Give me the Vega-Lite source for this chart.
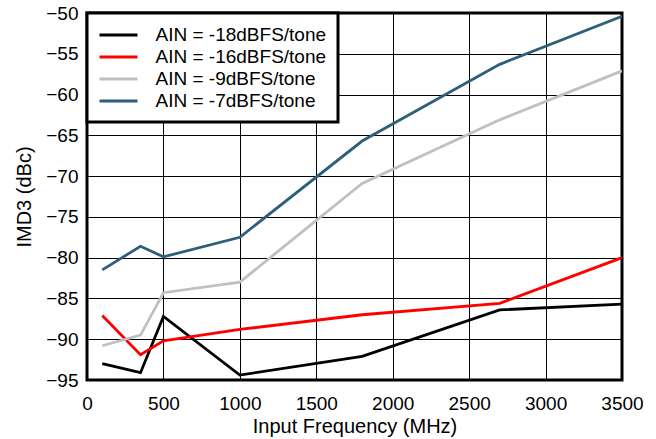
{
  "$schema": "https://vega.github.io/schema/vega-lite/v6.json",
  "width": 535,
  "height": 367,
  "autosize": {"type": "none"},
  "padding": {"left": 87, "top": 13, "right": 34, "bottom": 59},
  "background": "white",
  "config": {
    "font": "Liberation Sans",
    "view": {"stroke": "black", "strokeWidth": 3}
  },
  "data": {
    "values": [
      {"s": "AIN = -18dBFS/tone", "f": 100, "v": -93.0},
      {"s": "AIN = -18dBFS/tone", "f": 350, "v": -94.1},
      {"s": "AIN = -18dBFS/tone", "f": 500, "v": -87.2},
      {"s": "AIN = -18dBFS/tone", "f": 1000, "v": -94.4},
      {"s": "AIN = -18dBFS/tone", "f": 1800, "v": -92.1},
      {"s": "AIN = -18dBFS/tone", "f": 2700, "v": -86.4},
      {"s": "AIN = -18dBFS/tone", "f": 3500, "v": -85.7},
      {"s": "AIN = -16dBFS/tone", "f": 100, "v": -87.1},
      {"s": "AIN = -16dBFS/tone", "f": 350, "v": -91.9},
      {"s": "AIN = -16dBFS/tone", "f": 500, "v": -90.2},
      {"s": "AIN = -16dBFS/tone", "f": 1000, "v": -88.8},
      {"s": "AIN = -16dBFS/tone", "f": 1800, "v": -87.0},
      {"s": "AIN = -16dBFS/tone", "f": 2700, "v": -85.6},
      {"s": "AIN = -16dBFS/tone", "f": 3500, "v": -80.0},
      {"s": "AIN = -9dBFS/tone", "f": 100, "v": -90.8},
      {"s": "AIN = -9dBFS/tone", "f": 350, "v": -89.5},
      {"s": "AIN = -9dBFS/tone", "f": 500, "v": -84.3},
      {"s": "AIN = -9dBFS/tone", "f": 1000, "v": -83.0},
      {"s": "AIN = -9dBFS/tone", "f": 1800, "v": -70.9},
      {"s": "AIN = -9dBFS/tone", "f": 2700, "v": -63.1},
      {"s": "AIN = -9dBFS/tone", "f": 3500, "v": -57.1},
      {"s": "AIN = -7dBFS/tone", "f": 100, "v": -81.5},
      {"s": "AIN = -7dBFS/tone", "f": 350, "v": -78.6},
      {"s": "AIN = -7dBFS/tone", "f": 500, "v": -79.9},
      {"s": "AIN = -7dBFS/tone", "f": 1000, "v": -77.5},
      {"s": "AIN = -7dBFS/tone", "f": 1800, "v": -65.7},
      {"s": "AIN = -7dBFS/tone", "f": 2700, "v": -56.3},
      {"s": "AIN = -7dBFS/tone", "f": 3500, "v": -50.4}
    ]
  },
  "mark": {"type": "line", "strokeWidth": 2.8, "clip": true},
  "encoding": {
    "x": {
      "field": "f", "type": "quantitative",
      "scale": {"domain": [0, 3500], "nice": false},
      "axis": {
        "title": "Input Frequency (MHz)",
        "values": [0, 500, 1000, 1500, 2000, 2500, 3000, 3500],
        "format": "d",
        "labelFlush": false, "labelOverlap": false, "labelBound": false,
        "grid": true, "gridColor": "black", "gridOpacity": 1, "gridWidth": 1,
        "domain": false, "ticks": false,
        "labelFontSize": 19, "labelColor": "black", "labelPadding": 14,
        "titleFontSize": 20, "titleFontWeight": "normal", "titleColor": "black", "titlePadding": 3
      }
    },
    "y": {
      "field": "v", "type": "quantitative",
      "scale": {"domain": [-95, -50], "nice": false, "zero": false},
      "axis": {
        "title": "IMD3 (dBc)",
        "values": [-95, -90, -85, -80, -75, -70, -65, -60, -55, -50],
        "labelFlush": false, "labelOverlap": false, "labelBound": false,
        "grid": true, "gridColor": "black", "gridOpacity": 1, "gridWidth": 1,
        "domain": false, "ticks": false,
        "labelFontSize": 19, "labelColor": "black", "labelPadding": 9,
        "titleFontSize": 20, "titleFontWeight": "normal", "titleColor": "black", "titlePadding": 11
      }
    },
    "color": {
      "field": "s", "type": "nominal",
      "sort": ["AIN = -18dBFS/tone", "AIN = -16dBFS/tone", "AIN = -9dBFS/tone", "AIN = -7dBFS/tone"],
      "scale": {
        "domain": ["AIN = -18dBFS/tone", "AIN = -16dBFS/tone", "AIN = -9dBFS/tone", "AIN = -7dBFS/tone"],
        "range": ["#000000", "#ff0000", "#c0c0c0", "#2e5f7a"]
      },
      "legend": {
        "title": null,
        "orient": "top-left",
        "offset": 0,
        "fillColor": "white",
        "strokeColor": "black",
        "padding": 11,
        "symbolType": "M-2,0H2",
        "symbolSize": 361,
        "symbolOffset": 9.5,
        "symbolStrokeWidth": 3,
        "labelFontSize": 19,
        "labelOffset": 26,
        "labelColor": "black",
        "labelLimit": 300,
        "rowPadding": 1,
        "encode": {"legend": {"update": {"strokeWidth": {"value": 3}}}}
      }
    }
  }
}
